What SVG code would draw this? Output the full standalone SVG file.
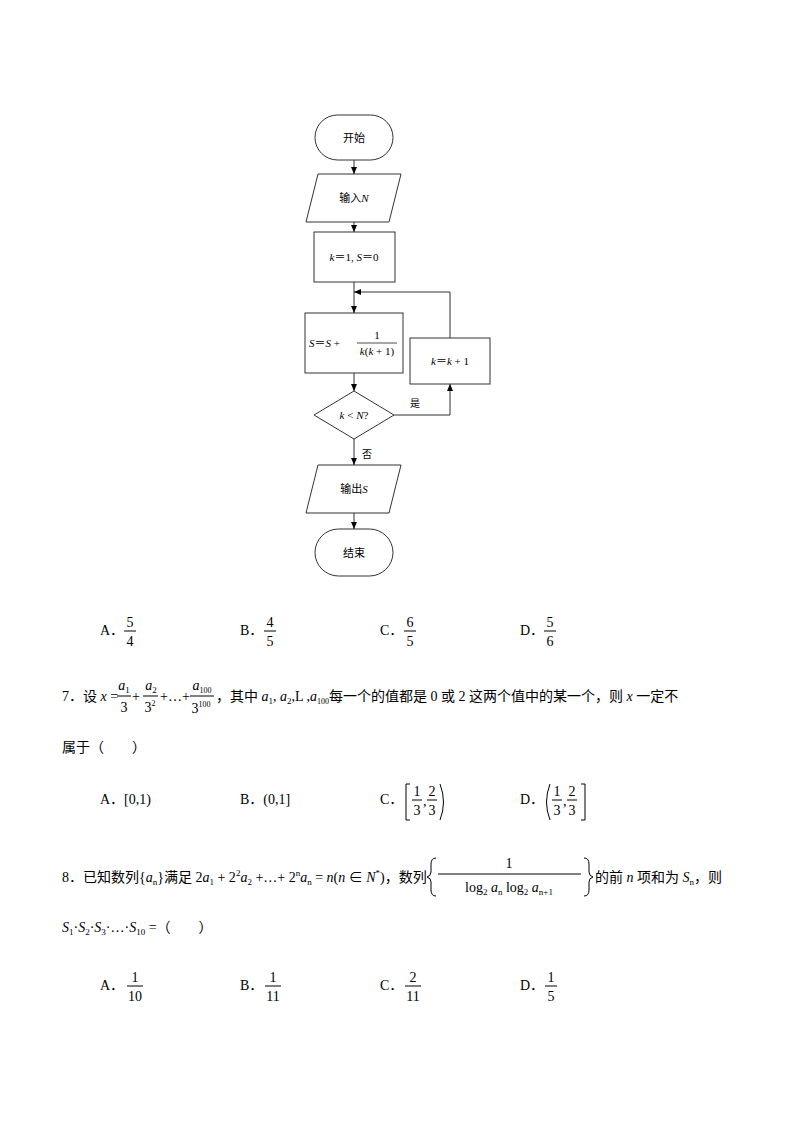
<svg xmlns="http://www.w3.org/2000/svg" width="794" height="1123" viewBox="0 0 794 1123">
<defs>
<marker id="ah" markerWidth="8" markerHeight="8" refX="7" refY="4" orient="auto" markerUnits="userSpaceOnUse"><path d="M0,1 L7,4 L0,7 Z" fill="#000"/></marker>
<style>
.n{fill:#fff;stroke:#333;stroke-width:1}
.c{fill:none;stroke:#333;stroke-width:1}
.b{fill:none;stroke:#000;stroke-width:1}
.t{font-family:"Liberation Serif","Noto Sans CJK SC",serif;font-size:11px;fill:#000}
.m{font-family:"Liberation Serif","Noto Sans CJK SC",serif;font-size:14px;fill:#000}
.s{font-family:"Liberation Serif","Noto Sans CJK SC",serif;font-size:10px;fill:#000}
.i{font-style:italic}
</style>
</defs>
<rect width="794" height="1123" fill="#fff"/>
<g id="start"><rect class="n" x="315" y="115" width="78" height="45" rx="22.5"/><text class="t" x="354" y="142" text-anchor="middle">开始</text></g>
<g id="input"><polygon class="n" points="318,174 401,174 389,222 306,222"/><text class="t" x="354" y="202" text-anchor="middle">输入<tspan class="i">N</tspan></text></g>
<g id="init"><rect class="n" x="314" y="232" width="81" height="50"/><text class="t" x="354" y="261" text-anchor="middle"><tspan class="i">k</tspan>＝1, <tspan class="i">S</tspan>＝0</text></g>
<g id="sum"><rect class="n" x="305" y="313" width="98" height="60"/><text class="t" x="309" y="347"><tspan class="i">S</tspan>＝<tspan class="i">S</tspan> + </text><text class="t" x="377" y="339" text-anchor="middle">1</text><line x1="357" y1="343" x2="397" y2="343" stroke="#000" stroke-width="0.7"/><text class="t" x="377" y="355" text-anchor="middle"><tspan class="i">k</tspan>(<tspan class="i">k</tspan> + 1)</text></g>
<g id="inc"><rect class="n" x="410" y="338" width="80" height="46"/><text class="t" x="450" y="365" text-anchor="middle"><tspan class="i">k</tspan>＝<tspan class="i">k</tspan> + 1</text></g>
<g id="cond"><polygon class="n" points="354,391 394,415 354,439 314,415"/><text class="t" x="354" y="419" text-anchor="middle"><tspan class="i">k</tspan> &lt; <tspan class="i">N</tspan>?</text></g>
<g id="output"><polygon class="n" points="318,465 401,465 389,513 306,513"/><text class="t" x="354" y="493" text-anchor="middle">输出<tspan class="i">S</tspan></text></g>
<g id="end"><rect class="n" x="315" y="529" width="78" height="47" rx="23.5"/><text class="t" x="354" y="557" text-anchor="middle">结束</text></g>
<g id="connectors">
<line class="c" x1="354" y1="160" x2="354" y2="174" marker-end="url(#ah)"/>
<line class="c" x1="354" y1="222" x2="354" y2="232" marker-end="url(#ah)"/>
<line class="c" x1="354" y1="282" x2="354" y2="313" marker-end="url(#ah)"/>
<line class="c" x1="354" y1="373" x2="354" y2="391" marker-end="url(#ah)"/>
<line class="c" x1="354" y1="439" x2="354" y2="465" marker-end="url(#ah)"/>
<line class="c" x1="354" y1="513" x2="354" y2="529" marker-end="url(#ah)"/>
<polyline class="c" points="394,415 450,415 450,384" marker-end="url(#ah)"/>
<polyline class="c" points="450,338 450,292 354,292" marker-end="url(#ah)"/>
<text class="s" x="410" y="407">是</text>
<text class="s" x="362" y="458">否</text>
</g>
<g id="q6opts">
<text class="m" x="100" y="635">A．</text><text class="m" x="130" y="627" text-anchor="middle">5</text><line x1="124" y1="631" x2="136" y2="631" stroke="#000"/><text class="m" x="130" y="646" text-anchor="middle">4</text>
<text class="m" x="240" y="635">B．</text><text class="m" x="270" y="627" text-anchor="middle">4</text><line x1="264" y1="631" x2="276" y2="631" stroke="#000"/><text class="m" x="270" y="646" text-anchor="middle">5</text>
<text class="m" x="380" y="635">C．</text><text class="m" x="410" y="627" text-anchor="middle">6</text><line x1="404" y1="631" x2="416" y2="631" stroke="#000"/><text class="m" x="410" y="646" text-anchor="middle">5</text>
<text class="m" x="520" y="635">D．</text><text class="m" x="550" y="627" text-anchor="middle">5</text><line x1="544" y1="631" x2="556" y2="631" stroke="#000"/><text class="m" x="550" y="646" text-anchor="middle">6</text>
</g>
<g id="q7">
<text class="m" x="62" y="701">7．设 <tspan class="i">x</tspan> =</text>
<text class="m" x="124" y="690" text-anchor="middle"><tspan class="i">a</tspan><tspan font-size="9" dy="3">1</tspan></text><line x1="117" y1="696" x2="131" y2="696" stroke="#000"/><text class="m" x="124" y="712" text-anchor="middle">3</text>
<text class="m" x="132" y="701">+</text>
<text class="m" x="151" y="690" text-anchor="middle"><tspan class="i">a</tspan><tspan font-size="9" dy="3">2</tspan></text><line x1="143" y1="696" x2="158" y2="696" stroke="#000"/><text class="m" x="150" y="712" text-anchor="middle">3<tspan font-size="8" dy="-6">2</tspan></text>
<text class="m" x="160" y="701">+…+</text>
<text class="m" x="202" y="690" text-anchor="middle"><tspan class="i">a</tspan><tspan font-size="8" dy="3">100</tspan></text><line x1="190" y1="696" x2="214" y2="696" stroke="#000"/><text class="m" x="201" y="713" text-anchor="middle">3<tspan font-size="8" dy="-6">100</tspan></text>
<text class="m" x="216" y="701">，其中 <tspan class="i">a</tspan><tspan font-size="9" dy="3">1</tspan><tspan dy="-3">, </tspan><tspan class="i">a</tspan><tspan font-size="9" dy="3">2</tspan><tspan dy="-3">,L ,</tspan><tspan class="i">a</tspan><tspan font-size="8" dy="3">100</tspan><tspan dy="-3">每一个的值都是 0 或 2 这两个值中的某一个，则 </tspan><tspan class="i">x</tspan> 一定不</text>
<text class="m" x="62" y="752">属于（　　）</text>
<text class="m" x="100" y="804">A．[0,1)</text>
<text class="m" x="240" y="804">B．(0,1]</text>
<text class="m" x="380" y="804">C．</text>
<path class="b" d="M410,784 L406,784 L406,820 L410,820"/>
<text class="m" x="417" y="796" text-anchor="middle">1</text><line x1="412" y1="800" x2="422" y2="800" stroke="#000"/><text class="m" x="417" y="815" text-anchor="middle">3</text><text class="m" x="423" y="806">,</text><text class="m" x="432" y="796" text-anchor="middle">2</text><line x1="427" y1="800" x2="437" y2="800" stroke="#000"/><text class="m" x="432" y="815" text-anchor="middle">3</text>
<path class="b" d="M440,784 Q447,802 440,820"/>
<text class="m" x="520" y="804">D．</text>
<path class="b" d="M550,784 Q543,802 550,820"/>
<text class="m" x="557" y="796" text-anchor="middle">1</text><line x1="552" y1="800" x2="562" y2="800" stroke="#000"/><text class="m" x="557" y="815" text-anchor="middle">3</text><text class="m" x="563" y="806">,</text><text class="m" x="572" y="796" text-anchor="middle">2</text><line x1="567" y1="800" x2="577" y2="800" stroke="#000"/><text class="m" x="572" y="815" text-anchor="middle">3</text>
<path class="b" d="M581,784 L585,784 L585,820 L581,820"/>
</g>
<g id="q8">
<text class="m" x="62" y="882">8．已知数列{<tspan class="i">a</tspan><tspan font-size="9" dy="3">n</tspan><tspan dy="-3">}满足 2</tspan><tspan class="i">a</tspan><tspan font-size="9" dy="3">1</tspan><tspan dy="-3"> + 2</tspan><tspan font-size="9" dy="-6">2</tspan><tspan class="i" dy="6">a</tspan><tspan font-size="9" dy="3">2</tspan><tspan dy="-3"> +…+ 2</tspan><tspan font-size="9" dy="-6">n</tspan><tspan class="i" dy="6">a</tspan><tspan font-size="9" dy="3">n</tspan><tspan dy="-3"> = </tspan><tspan class="i">n</tspan>(<tspan class="i">n</tspan> ∈ <tspan class="i">N</tspan><tspan font-size="9" dy="-6">*</tspan><tspan dy="6">)，数列</tspan></text>
<path class="b" d="M436,858 Q431,858 431,864 L431,872 Q431,876 427,877 Q431,878 431,882 L431,890 Q431,896 436,896"/>
<text class="m" x="509" y="868" text-anchor="middle">1</text><line x1="438" y1="874" x2="581" y2="874" stroke="#000"/>
<text class="m" x="509" y="892" text-anchor="middle">log<tspan font-size="9" dy="3">2</tspan><tspan class="i" dy="-3"> a</tspan><tspan font-size="9" dy="3">n</tspan><tspan dy="-3"> log</tspan><tspan font-size="9" dy="3">2</tspan><tspan class="i" dy="-3"> a</tspan><tspan font-size="9" dy="3">n+1</tspan></text>
<path class="b" d="M584,858 Q589,858 589,864 L589,872 Q589,876 593,877 Q589,878 589,882 L589,890 Q589,896 584,896"/>
<text class="m" x="595" y="882">的前 <tspan class="i">n</tspan> 项和为 <tspan class="i">S</tspan><tspan font-size="9" dy="3">n</tspan><tspan dy="-3">，则</tspan></text>
<text class="m" x="62" y="932"><tspan class="i">S</tspan><tspan font-size="9" dy="3">1</tspan><tspan dy="-3">·</tspan><tspan class="i">S</tspan><tspan font-size="9" dy="3">2</tspan><tspan dy="-3">·</tspan><tspan class="i">S</tspan><tspan font-size="9" dy="3">3</tspan><tspan dy="-3">·…·</tspan><tspan class="i">S</tspan><tspan font-size="9" dy="3">10</tspan><tspan dy="-3"> =（　　）</tspan></text>
<text class="m" x="100" y="990">A．</text><text class="m" x="135" y="982" text-anchor="middle">1</text><line x1="127" y1="986" x2="143" y2="986" stroke="#000"/><text class="m" x="135" y="1001" text-anchor="middle">10</text>
<text class="m" x="240" y="990">B．</text><text class="m" x="273" y="982" text-anchor="middle">1</text><line x1="265" y1="986" x2="281" y2="986" stroke="#000"/><text class="m" x="273" y="1001" text-anchor="middle">11</text>
<text class="m" x="380" y="990">C．</text><text class="m" x="413" y="982" text-anchor="middle">2</text><line x1="405" y1="986" x2="421" y2="986" stroke="#000"/><text class="m" x="413" y="1001" text-anchor="middle">11</text>
<text class="m" x="520" y="990">D．</text><text class="m" x="551" y="982" text-anchor="middle">1</text><line x1="545" y1="986" x2="557" y2="986" stroke="#000"/><text class="m" x="551" y="1001" text-anchor="middle">5</text>
</g>
</svg>
